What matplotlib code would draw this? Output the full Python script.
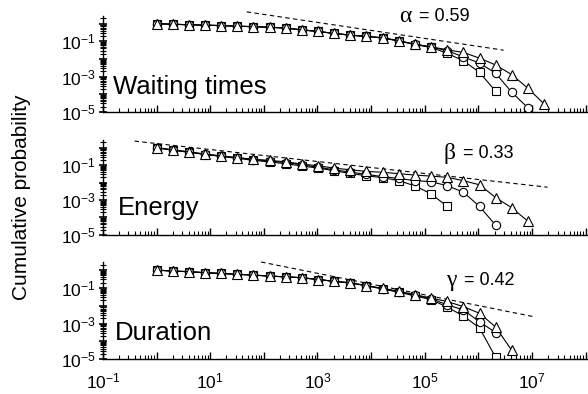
import numpy as np
import matplotlib
matplotlib.use('Agg')
import matplotlib.pyplot as plt
from matplotlib import ticker

plt.rcParams['font.family'] = ['Liberation Sans', 'DejaVu Sans']
plt.rcParams['mathtext.fontset'] = 'custom'
plt.rcParams['mathtext.rm'] = 'Liberation Sans'
plt.rcParams['mathtext.it'] = 'Liberation Sans:italic'
plt.rcParams['mathtext.bf'] = 'Liberation Sans:bold'

# log bins, factor 2 apart
x = [1, 2, 4, 8, 16, 32, 64, 128, 256, 512, 1024, 2048, 4096, 8192, 16384,
     32768, 65536, 131072, 262144, 524288, 1048576, 2097152, 4194304,
     8388608, 16777216]

# log10 of cumulative probability
wt_tri = [0, -0.03, -0.06, -0.08, -0.11, -0.14, -0.17, -0.20, -0.25, -0.35, -0.44, -0.55,
          -0.65, -0.72, -0.80, -0.97, -1.16, -1.31, -1.48, -1.63, -1.95, -2.34, -2.89,
          -3.66, -4.55]
wt_cir = [0, -0.03, -0.06, -0.08, -0.11, -0.14, -0.17, -0.20, -0.25, -0.35, -0.44, -0.55,
          -0.65, -0.72, -0.80, -0.97, -1.17, -1.33, -1.52, -1.89, -2.23, -2.81, -3.89,
          -4.77]
wt_sq = [0, -0.03, -0.06, -0.08, -0.11, -0.14, -0.17, -0.20, -0.25, -0.35, -0.44, -0.55,
         -0.65, -0.72, -0.81, -0.98, -1.18, -1.34, -1.68, -2.10, -2.76, -3.83]

en_tri = [0, -0.13, -0.24, -0.37, -0.47, -0.57, -0.66, -0.73, -0.81, -0.94, -1.04, -1.17,
          -1.27, -1.36, -1.41, -1.49, -1.57, -1.63, -1.70, -1.89, -2.13, -2.86, -3.45,
          -4.22]
en_cir = [0, -0.13, -0.24, -0.37, -0.48, -0.58, -0.68, -0.76, -0.85, -0.98, -1.12, -1.27,
          -1.40, -1.53, -1.66, -1.76, -1.89, -1.95, -2.18, -2.55, -3.37, -4.45]
en_sq = [0, -0.14, -0.26, -0.39, -0.50, -0.61, -0.72, -0.82, -0.92, -1.05, -1.17, -1.32,
         -1.48, -1.61, -1.72, -1.89, -2.19, -2.65, -3.37]

du_tri = [0, -0.06, -0.09, -0.15, -0.19, -0.24, -0.28, -0.34, -0.38, -0.43, -0.53, -0.63,
          -0.72, -0.87, -1.03, -1.19, -1.38, -1.57, -1.76, -2.05, -2.42, -3.19, -4.50]
du_cir = [0, -0.06, -0.09, -0.15, -0.19, -0.24, -0.28, -0.34, -0.38, -0.43, -0.53, -0.63,
          -0.72, -0.87, -1.04, -1.21, -1.40, -1.60, -1.95, -2.23, -2.90, -3.50]
du_sq = [0, -0.06, -0.09, -0.15, -0.19, -0.24, -0.28, -0.34, -0.38, -0.43, -0.53, -0.63,
         -0.72, -0.88, -1.06, -1.24, -1.45, -1.65, -2.08, -2.57, -3.24, -4.89]

# dashed power-law guides (end points)
wt_fit_x = [48, 2.95e6]
wt_fit_y = [4.68, 0.0316]
en_fit_x = [0.39, 1.95e7]
en_fit_y = [2.40, 0.0054]
du_fit_x = [89, 1.07e7]
du_fit_y = [2.82, 0.00245]

names = ['Waiting times', 'Energy', 'Duration']
greek = ['\u03b1', '\u03b2', '\u03b3']
exps = ['0.59', '0.33', '0.42']

panels = [
    (wt_tri, wt_cir, wt_sq, wt_fit_x, wt_fit_y),
    (en_tri, en_cir, en_sq, en_fit_x, en_fit_y),
    (du_tri, du_cir, du_sq, du_fit_x, du_fit_y),
]
# axes boxes [left, bottom, width, height] in figure fraction
boxes = [[0.175, 0.716, 0.823, 0.244],
         [0.175, 0.404, 0.823, 0.241],
         [0.175, 0.088, 0.823, 0.247]]
name_pos = [(0.02, 0.26), (0.031, 0.28), (0.025, 0.27)]
greek_pos = [(0.638, 0.99), (0.728, 0.86), (0.731, 0.815)]


def fmt(v, pos):
    e = int(round(np.log10(v)))
    if e % 2:
        return r'$10^{%d}$' % e
    return ''


fig = plt.figure(figsize=(5.88, 3.94), dpi=100)
for i, (tri, cir, sq, fx, fy) in enumerate(panels):
    ax = fig.add_axes(boxes[i])
    ax.set_xscale('log')
    ax.set_yscale('log')
    ax.plot(fx, fy, 'k--', lw=0.8, dashes=(4, 3), clip_on=False, zorder=1)
    ax.plot(x[:len(sq)], 10 ** np.array(sq), '-', color='k', lw=0.8, marker='s',
            ms=5.2, mfc='white', mec='k', mew=0.8, zorder=2)
    ax.plot(x[:len(cir)], 10 ** np.array(cir), '-', color='k', lw=0.8, marker='o',
            ms=6, mfc='white', mec='k', mew=0.8, zorder=3)
    ax.plot(x[:len(tri)], 10 ** np.array(tri), '-', color='k', lw=0.8, marker='^',
            ms=6.5, mfc='white', mec='k', mew=0.8, zorder=4)
    ax.set_xlim(0.1, 1.05e8)
    ax.set_ylim(1e-5, 10 ** 0.45)
    for s in ['top', 'right']:
        ax.spines[s].set_visible(False)
    ax.spines['left'].set_linewidth(1.0)
    ax.spines['bottom'].set_linewidth(1.0)

    ax.xaxis.set_major_locator(ticker.FixedLocator([10.0 ** e for e in range(-1, 9)]))
    ax.xaxis.set_minor_locator(ticker.LogLocator(base=10, subs=np.arange(2, 10), numticks=20))
    ax.xaxis.set_minor_formatter(ticker.NullFormatter())
    ax.yaxis.set_major_locator(ticker.FixedLocator([10.0 ** e for e in range(-5, 1)]))
    ax.yaxis.set_minor_locator(ticker.LogLocator(base=10, subs=np.arange(2, 10), numticks=20))
    ax.yaxis.set_minor_formatter(ticker.NullFormatter())
    ax.yaxis.set_major_formatter(ticker.FuncFormatter(fmt))
    if i == 2:
        ax.xaxis.set_major_formatter(ticker.FuncFormatter(fmt))
    else:
        ax.xaxis.set_major_formatter(ticker.NullFormatter())
    ax.tick_params(axis='x', which='major', direction='in', length=5, width=1.0,
                   labelsize=12.5, pad=9)
    ax.tick_params(axis='x', which='minor', direction='in', length=3, width=0.8)
    ax.tick_params(axis='y', which='major', direction='inout', length=6, width=1.2,
                   labelsize=12.5, pad=2)
    ax.tick_params(axis='y', which='minor', direction='inout', length=4, width=0.8)

    ax.text(name_pos[i][0], name_pos[i][1], names[i], transform=ax.transAxes,
            fontsize=18.5, ha='left', va='center')
    gx, gy = greek_pos[i]
    ax.text(gx, gy, greek[i], transform=ax.transAxes, family='Liberation Serif',
            fontsize=17, ha='right', va='center', clip_on=False)
    ax.text(gx + 0.016, gy, '= ' + exps[i], transform=ax.transAxes,
            fontsize=13, ha='left', va='center', clip_on=False)

fig.text(0.037, 0.5, 'Cumulative probability', rotation=90, ha='center', va='center',
         fontsize=15)

fig.savefig('out.png', dpi=100)
